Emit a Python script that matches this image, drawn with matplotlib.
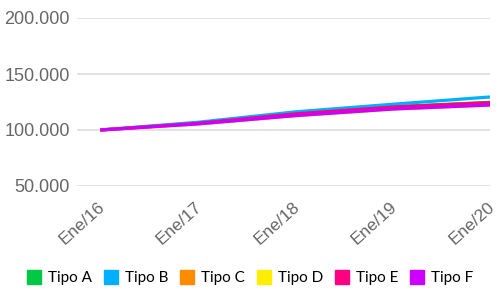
import matplotlib
matplotlib.use("Agg")
import matplotlib.pyplot as plt
import matplotlib.transforms as mtransforms
import pandas as pd
from matplotlib.lines import Line2D
from matplotlib.ticker import FuncFormatter

# ---------------------------------------------------------------------------
# Data
# ---------------------------------------------------------------------------
dates = pd.to_datetime(["2016-01-01", "2017-01-01", "2018-01-01", "2019-01-01", "2020-01-01"])
tick_labels = ["Ene/16", "Ene/17", "Ene/18", "Ene/19", "Ene/20"]

tipo_a = [100000, 106300, 114600, 120800, 124700]
tipo_b = [100000, 106900, 116200, 123000, 129500]
tipo_c = [100000, 105500, 113000, 118900, 122500]
tipo_d = [100000, 105400, 112800, 118700, 122300]
tipo_e = [100000, 106000, 114400, 120500, 124400]
tipo_f = [100000, 105400, 112800, 118700, 122300]

series = {
    "Tipo A": tipo_a,
    "Tipo B": tipo_b,
    "Tipo C": tipo_c,
    "Tipo D": tipo_d,
    "Tipo E": tipo_e,
    "Tipo F": tipo_f,
}
colors = ["#00c844", "#00b0ff", "#ff8c00", "#ffee00", "#ff0080", "#cc00ff"]

# ---------------------------------------------------------------------------
# Plot
# ---------------------------------------------------------------------------
fig = plt.figure(figsize=(4.98, 2.89), dpi=100)
ax = fig.add_axes([77 / 498, 1 - 186 / 289, 413 / 498, 168 / 289])

for (name, vals), c in zip(series.items(), colors):
    ax.plot(dates, vals, color=c, linewidth=2.3, solid_capstyle="butt", label=name)

ax.set_ylim(50000, 200000)
ax.set_yticks([50000, 100000, 150000, 200000])
ax.yaxis.set_major_formatter(FuncFormatter(lambda v, p: f"{int(v):,}".replace(",", ".")))
ax.set_xlim(pd.Timestamp("2015-10-06"), pd.Timestamp("2020-01-01"))
ax.set_xticks(dates)
ax.set_xticklabels(tick_labels)

ax.grid(axis="y", color="#e3e3e3", linewidth=1.4)
ax.set_axisbelow(True)
for s in ax.spines.values():
    s.set_visible(False)
ax.tick_params(length=0)
ax.tick_params(axis="y", pad=5, labelsize=13, labelcolor="#666666")
ax.tick_params(axis="x", pad=3, labelsize=12.5, labelcolor="#666666")
for lbl in ax.get_yticklabels() + ax.get_xticklabels():
    lbl.set_fontfamily("Liberation Sans")
shift = mtransforms.ScaledTranslation(-3 / 100, -9 / 100, fig.dpi_scale_trans)
for lbl in ax.get_xticklabels():
    lbl.set_rotation(42)
    lbl.set_ha("right")
    lbl.set_rotation_mode("anchor")
    lbl.set_transform(lbl.get_transform() + shift)

handles = [Line2D([], [], marker="s", linestyle="none", markersize=10,
                  markerfacecolor=c, markeredgecolor=c) for c in colors]
fig.legend(handles, list(series.keys()), loc="center", bbox_to_anchor=(0.503, 1 - 278 / 289),
           ncol=6, frameon=False, handlelength=0.9, handletextpad=0.45, columnspacing=0.8,
           prop={"family": "Lato", "size": 11})

fig.savefig("out.png", dpi=100)
